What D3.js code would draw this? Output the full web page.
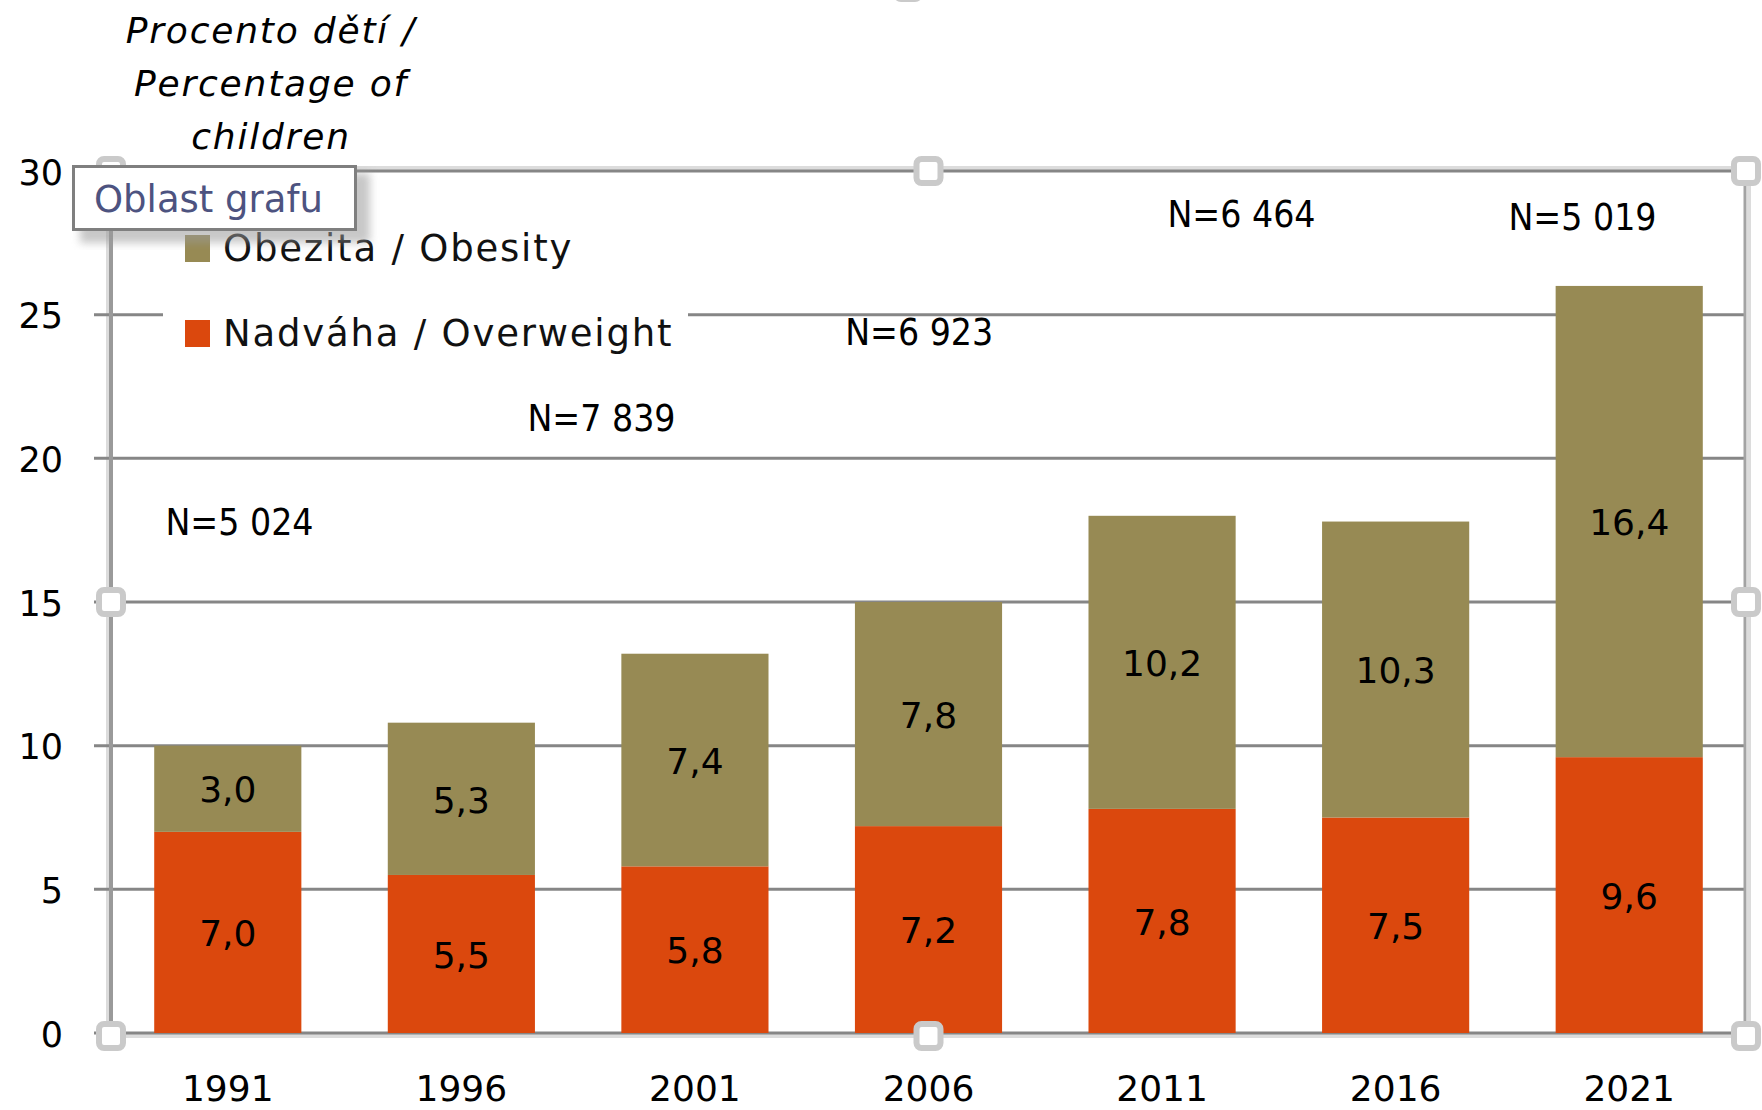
<!DOCTYPE html>
<html>
<head>
<meta charset="utf-8">
<script src="https://d3js.org/d3.v7.min.js"></script>
<style>
  body { margin: 0; background: #fff; }
  text { font-family: "DejaVu Sans", sans-serif; fill: #000; }
  .tick-label { font-size: 35px; }
  .x-label { font-size: 36px; }
  .value { font-size: 36px; }
  .n-label { font-family: "DejaVu Sans Condensed", "DejaVu Sans", sans-serif; font-stretch: condensed; font-size: 37px; }
  .title { font-size: 36px; font-style: italic; letter-spacing: 1.8px; }
  .legend-text { font-size: 37px; letter-spacing: 1.8px; fill: #111; }
  .grid { stroke: #868686; stroke-width: 3; }
  .handle { fill: #fff; stroke: #cacaca; stroke-width: 6; }
  .tip-text { font-size: 37px; fill: #4d5380; }
</style>
</head>
<body>
<div id="chart"></div>
<script>
  // data
  var years = ["1991", "1996", "2001", "2006", "2011", "2016", "2021"];
  var overweight = [7.0, 5.5, 5.8, 7.2, 7.8, 7.5, 9.6];
  var obesity = [3.0, 5.3, 7.4, 7.8, 10.2, 10.3, 16.4];
  var yTicks = [0, 5, 10, 15, 20, 25, 30];
  var seriesNames = ["Obezita / Obesity", "Nadváha / Overweight"];
  var titleLines = ["Procento dětí /", "Percentage of", "children"];
  // sample sizes, placed as free text boxes (x in category index, y in %)
  var nLabels = ["N=5 024", "N=7 839", "N=6 923", "N=6 464", "N=5 019"];
  var nPosX = [0.05, 1.60, 2.96, 4.34, 5.80];
  var nPosY = [17.8, 21.4, 24.4, 28.5, 28.4];

  var W = 1762, H = 1110;
  var margin = { top: 171, right: 16, bottom: 77, left: 111 };

  var colors = { overweight: "#db480d", obesity: "#978a54" };

  var svg = d3.select("#chart").append("svg")
    .attr("width", W)
    .attr("height", H);

  var x = d3.scaleBand()
    .domain(years)
    .range([margin.left, W - margin.right])
    .paddingInner(0.37)
    .paddingOuter(0.185);

  var xi = d3.scaleLinear()
    .domain([0, years.length - 1])
    .range([x(years[0]) + x.bandwidth() / 2, x(years[years.length - 1]) + x.bandwidth() / 2]);

  var y = d3.scaleLinear()
    .domain([0, 30])
    .range([H - margin.bottom, margin.top]);

  var x0 = x.range()[0], x1 = x.range()[1];

  // light outer edge of the selected plot area
  svg.append("rect")
    .attr("x", x0 - 3).attr("y", y(30) - 3)
    .attr("width", x1 - x0 + 6).attr("height", y(0) - y(30) + 6)
    .attr("fill", "none")
    .attr("stroke", "#dcdcdc")
    .attr("stroke-width", 4);

  // gridlines
  svg.append("g").selectAll("line")
    .data(yTicks)
    .enter().append("line")
    .attr("class", "grid")
    .attr("x1", x0 - 17)
    .attr("x2", x1)
    .attr("y1", function(d) { return y(d); })
    .attr("y2", function(d) { return y(d); });

  // right border + left axis
  svg.append("line")
    .attr("x1", x1 - 1).attr("x2", x1 - 1)
    .attr("y1", y(30)).attr("y2", y(0))
    .attr("stroke", "#a3a3a3").attr("stroke-width", 3);
  svg.append("line")
    .attr("x1", x0).attr("x2", x0)
    .attr("y1", y(30)).attr("y2", y(0) + 2)
    .attr("stroke", "#9a9a9a").attr("stroke-width", 4);

  // y tick labels
  svg.append("g").selectAll("text")
    .data(yTicks)
    .enter().append("text")
    .attr("class", "tick-label")
    .attr("x", 63)
    .attr("y", function(d) { return y(d) + 1; })
    .attr("dy", "0.36em")
    .attr("text-anchor", "end")
    .text(function(d) { return d; });

  // x labels
  svg.append("g").selectAll("text")
    .data(years)
    .enter().append("text")
    .attr("class", "x-label")
    .attr("x", function(d) { return x(d) + x.bandwidth() / 2; })
    .attr("y", 1101)
    .attr("text-anchor", "middle")
    .text(function(d) { return d; });

  // stacked bars
  var rows = years.map(function(yr, i) {
    return { year: yr, overweight: overweight[i], obesity: obesity[i] };
  });
  var stack = d3.stack().keys(["overweight", "obesity"])(rows);

  var layers = svg.append("g").selectAll("g")
    .data(stack)
    .enter().append("g")
    .attr("fill", function(d) { return colors[d.key]; });

  layers.selectAll("rect")
    .data(function(d) { return d; })
    .enter().append("rect")
    .attr("x", function(d) { return x(d.data.year); })
    .attr("y", function(d) { return y(d[1]); })
    .attr("width", x.bandwidth())
    .attr("height", function(d) { return y(d[0]) - y(d[1]); });

  layers.selectAll("text")
    .data(function(d) { return d; })
    .enter().append("text")
    .attr("class", "value")
    .attr("x", function(d) { return x(d.data.year) + x.bandwidth() / 2; })
    .attr("y", function(d) { return y((d[0] + d[1]) / 2); })
    .attr("dy", "0.38em")
    .attr("text-anchor", "middle")
    .text(function(d) { return d3.format(".1f")(d[1] - d[0]).replace(".", ","); });

  // N text boxes
  svg.append("g").selectAll("text")
    .data(nLabels)
    .enter().append("text")
    .attr("class", "n-label")
    .attr("x", function(d, i) { return xi(nPosX[i]); })
    .attr("y", function(d, i) { return y(nPosY[i]); })
    .attr("dy", "0.36em")
    .attr("text-anchor", "middle")
    .text(function(d) { return d; });

  // axis title
  svg.append("g").selectAll("text")
    .data(titleLines)
    .enter().append("text")
    .attr("class", "title")
    .attr("x", 271)
    .attr("y", function(d, i) { return 43 + i * 53; })
    .attr("text-anchor", "middle")
    .text(function(d) { return d; });

  // selection handles of the plot area
  var hx = [x0, (x0 + x1) / 2, x1];
  var hy = [y(30), (y(30) + y(0)) / 2, y(0) + 3];
  var handles = [];
  hx.forEach(function(a, i) {
    hy.forEach(function(b, j) {
      if (!(i == 1 && j == 1)) handles.push([a, b]);
    });
  });
  handles.push([908, -13]);
  svg.append("g").selectAll("rect")
    .data(handles)
    .enter().append("rect")
    .attr("class", "handle")
    .attr("x", function(d) { return d[0] - 12; })
    .attr("y", function(d) { return d[1] - 12; })
    .attr("width", 24)
    .attr("height", 24)
    .attr("rx", 5);

  // legend
  var legend = svg.append("g");
  legend.append("rect")
    .attr("x", 163).attr("y", 185)
    .attr("width", 525).attr("height", 185)
    .attr("fill", "#fff");
  var items = legend.selectAll("g")
    .data(seriesNames)
    .enter().append("g")
    .attr("transform", function(d, i) { return "translate(185," + (235 + i * 85) + ")"; });
  items.append("rect")
    .attr("width", 25).attr("height", 27)
    .attr("fill", function(d, i) { return i == 0 ? colors.obesity : colors.overweight; });
  items.append("text")
    .attr("class", "legend-text")
    .attr("x", 38)
    .attr("y", 26)
    .text(function(d) { return d; });

  // "Oblast grafu" tooltip
  var defs = svg.append("defs");
  defs.append("filter").attr("id", "blur")
    .append("feGaussianBlur").attr("stdDeviation", 4);
  var tip = svg.append("g");
  tip.append("rect")
    .attr("x", 80).attr("y", 173)
    .attr("width", 290).attr("height", 70)
    .attr("fill", "#9a9a9a")
    .attr("opacity", 0.55)
    .attr("filter", "url(#blur)");
  tip.append("rect")
    .attr("x", 73.5).attr("y", 166.5)
    .attr("width", 282).attr("height", 63)
    .attr("fill", "#fff")
    .attr("stroke", "#7f7f7f")
    .attr("stroke-width", 3);
  tip.append("text")
    .attr("class", "tip-text")
    .attr("x", 94)
    .attr("y", 212)
    .text("Oblast grafu");
</script>
</body>
</html>
